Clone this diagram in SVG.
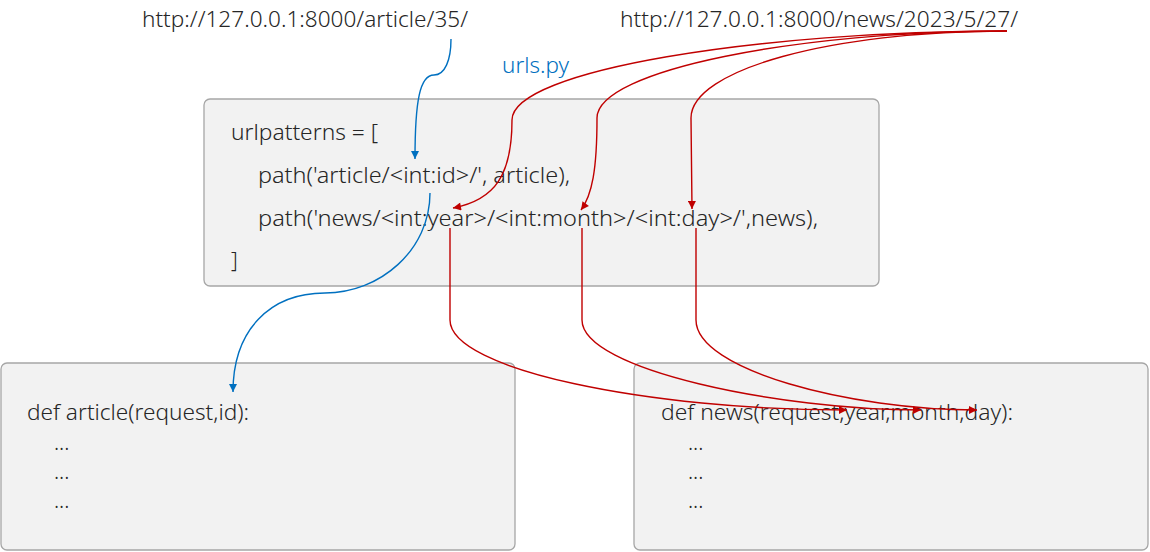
<svg xmlns="http://www.w3.org/2000/svg" width="1150" height="552" viewBox="0 0 1150 552">
<style>
.box{fill:#f2f2f2;stroke:#a6a6a6;stroke-width:1.3}
.t{font-family:"Noto Sans","Open Sans","Liberation Sans",sans-serif;font-size:21px;font-weight:300;fill:#262626}
.b{stroke:#0070c0;stroke-width:1.4;fill:none}
.r{stroke:#c00000;stroke-width:1.4;fill:none}
</style>
<defs>
<marker id="ab" viewBox="0 0 10 10" refX="10" refY="5" markerWidth="9" markerHeight="8" markerUnits="userSpaceOnUse" orient="auto"><path d="M0,0 L10,5 L0,10 z" fill="#0070c0"/></marker>
<marker id="ar" viewBox="0 0 10 10" refX="10" refY="5" markerWidth="9" markerHeight="8" markerUnits="userSpaceOnUse" orient="auto"><path d="M0,0 L10,5 L0,10 z" fill="#c00000"/></marker>
</defs>
<rect width="1150" height="552" fill="#ffffff"/>
<g id="url-article"><text class="t" x="142" y="27" textLength="326" lengthAdjust="spacingAndGlyphs">http://127.0.0.1:8000/article/35/</text></g>
<g id="url-news"><text class="t" x="620" y="27" textLength="398" lengthAdjust="spacingAndGlyphs">http://127.0.0.1:8000/news/2023/5/27/</text></g>
<g id="urls-label"><text class="t" x="502" y="73" textLength="67" lengthAdjust="spacingAndGlyphs" style="fill:#0070c0">urls.py</text></g>
<g id="urls-box">
<rect class="box" x="204" y="99" width="675" height="187" rx="6"/>
<text class="t" x="231" y="140" textLength="147" lengthAdjust="spacingAndGlyphs">urlpatterns = [</text>
<text class="t" x="258" y="183" textLength="312" lengthAdjust="spacingAndGlyphs">path('article/&lt;int:id&gt;/', article),</text>
<text class="t" x="258" y="226" textLength="560" lengthAdjust="spacingAndGlyphs">path('news/&lt;int:year&gt;/&lt;int:month&gt;/&lt;int:day&gt;/',news),</text>
<text class="t" x="231" y="268">]</text>
</g>
<g id="article-box">
<rect class="box" x="1" y="363" width="514" height="187" rx="6"/>
<text class="t" x="27" y="420" textLength="222" lengthAdjust="spacingAndGlyphs">def article(request,id):</text>
<text class="t" x="54" y="450">...</text>
<text class="t" x="54" y="479">...</text>
<text class="t" x="54" y="508">...</text>
</g>
<g id="news-box">
<rect class="box" x="634" y="363" width="514" height="187" rx="6"/>
<text class="t" x="661" y="420" textLength="352" lengthAdjust="spacingAndGlyphs">def news(request,year,month,day):</text>
<text class="t" x="688" y="450">...</text>
<text class="t" x="688" y="479">...</text>
<text class="t" x="688" y="508">...</text>
</g>
<g id="connectors">
<path class="b" d="M451,39 C451,60 445,75 434,75 C420,75 415,100 415,159" marker-end="url(#ab)"/>
<path class="b" d="M430,193 C430,250 380,293 325,293 C270,293 233,330 233,392" marker-end="url(#ab)"/>
<path class="r" d="M1007,31 C760,31 512,70 512,120 C512,175 495,200 453,208" marker-end="url(#ar)"/>
<path class="r" d="M1007,31 C800,31 597,70 597,118 C597,170 592,195 581,210" marker-end="url(#ar)"/>
<path class="r" d="M1007,31 C830,31 691,70 691,118 L692,209" marker-end="url(#ar)"/>
<path class="r" d="M450,228 L450,320 C450,370 650,410 847,410" marker-end="url(#ar)"/>
<path class="r" d="M582,228 L582,320 C582,370 780,410 921,410" marker-end="url(#ar)"/>
<path class="r" d="M696,228 L696,320 C696,370 850,410 977,410" marker-end="url(#ar)"/>
</g>
</svg>
